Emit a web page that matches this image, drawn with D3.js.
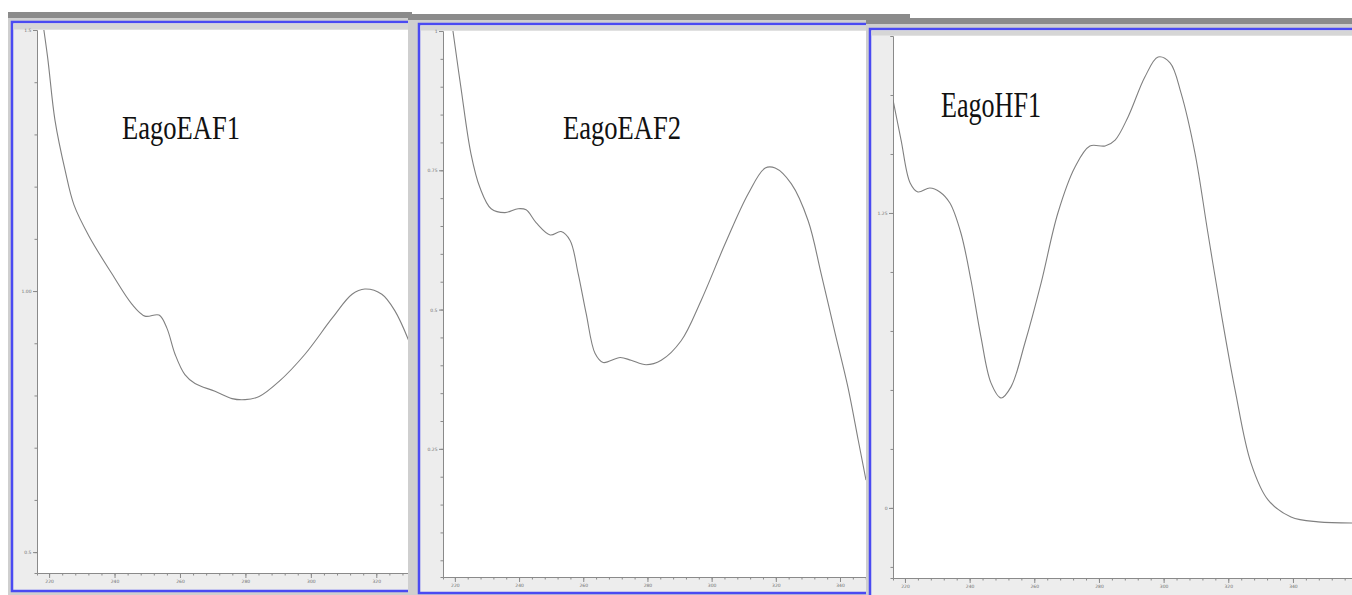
<!DOCTYPE html>
<html>
<head>
<meta charset="utf-8">
<script src="https://cdn.jsdelivr.net/npm/d3@7"></script>
<style>
  body { margin: 0; background: #fff; }
  svg { display: block; }
</style>
</head>
<body>
<div id="chart"></div>
<script>
const width = 1352;
const height = 595;

const sampleNames = ["EagoEAF1", "EagoEAF2", "EagoHF1"];

// wavelength (nm) and absorbance
const nmEAF1 = [217.0, 219.5, 221.8, 224.9, 227.6, 232.2, 239.2, 245.3, 249.3, 253.6, 256.0, 258.5, 261.5, 264.6,
  270.7, 275.9, 279.9, 284.2, 290.3, 298.2, 306.5, 312.6, 316.5, 321.7, 325.7, 330.0];
const absEAF1 = [1.56, 1.45, 1.327, 1.231, 1.165, 1.105, 1.033, 0.975, 0.952, 0.954, 0.929, 0.879, 0.840, 0.823,
  0.808, 0.794, 0.792, 0.798, 0.827, 0.879, 0.948, 0.994, 1.004, 0.994, 0.962, 0.904];

const nmEAF2 = [218.5, 219.4, 221.9, 225.0, 227.8, 231.3, 235.6, 239.7, 242.2, 245.3, 249.7, 253.1, 255.9, 258.4,
  260.9, 263.7, 266.2, 271.5, 274.9, 279.6, 284.3, 290.5, 296.7, 304.2, 311.4, 316.7, 319.8, 324.8, 330.1,
  334.1, 338.5, 342.5, 345.7, 348.1];
const absEAF2 = [1.04, 1.0, 0.898, 0.780, 0.719, 0.681, 0.674, 0.681, 0.679, 0.656, 0.634, 0.640, 0.624, 0.565,
  0.493, 0.421, 0.405, 0.414, 0.409, 0.401, 0.409, 0.444, 0.516, 0.618, 0.708, 0.754, 0.754, 0.726, 0.659,
  0.565, 0.457, 0.360, 0.265, 0.194];

const nmHF1 = [216.3, 218.8, 221.6, 224.0, 227.7, 230.8, 233.9, 237.3, 240.4, 243.5, 246.6, 249.7, 252.8, 257.1,
  262.1, 267.3, 272.6, 277.2, 281.9, 285.0, 289.0, 294.2, 298.3, 302.0, 305.4, 309.7, 313.7, 317.8, 322.1,
  327.0, 332.3, 339.4, 347.8, 358.3];
const absHF1 = [1.729, 1.559, 1.377, 1.339, 1.356, 1.339, 1.292, 1.165, 0.966, 0.725, 0.530, 0.466, 0.513, 0.699,
  0.953, 1.250, 1.445, 1.534, 1.534, 1.559, 1.657, 1.826, 1.911, 1.886, 1.758, 1.504, 1.165, 0.826, 0.500,
  0.191, 0.034, -0.038, -0.059, -0.064];

const xMajor = [220, 240, 260, 280, 300, 320, 340, 360];
const xMajorLabels = ["220", "240", "260", "280", "300", "320", "340", "360"];

const yMajorEAF1 = [0.5, 1.0, 1.5];
const yLabelsEAF1 = ["0.5", "1.00", "1.5"];
const yMajorEAF2 = [0.25, 0.5, 0.75, 1.0];
const yLabelsEAF2 = ["0.25", "0.5", "0.75", "1"];
const yMajorHF1 = [0, 1.25];
const yLabelsHF1 = ["0", "1.25"];

// screen layout of the three pasted windows
const panels = [
  {
    nm: nmEAF1, abs: absEAF1, name: sampleNames[0],
    yMajor: yMajorEAF1, yLabels: yLabelsEAF1, yStep: 0.1,
    win: { x: 8, y: 12, x2: 412, bar: 6 },
    frame: { x: 12, y: 22, x2: 410, y2: 591 },
    plot: { x0: 37, x1: 409, y0: 30, y1: 573 },
    xDomain: [216.3, 330], yDomain: [0.46, 1.5],
    label: { x: 122, y: 139, len: 118, size: 34 }
  },
  {
    nm: nmEAF2, abs: absEAF2, name: sampleNames[1],
    yMajor: yMajorEAF2, yLabels: yLabelsEAF2, yStep: 0.05,
    win: { x: 408, y: 14, x2: 910, bar: 6 },
    frame: { x: 419, y: 24, x2: 868, y2: 593 },
    plot: { x0: 443, x1: 866, y0: 31, y1: 577 },
    xDomain: [216.3, 348.1], yDomain: [0.02, 1.0],
    label: { x: 563, y: 139, len: 118, size: 34 }
  },
  {
    nm: nmHF1, abs: absHF1, name: sampleNames[2],
    yMajor: yMajorHF1, yLabels: yLabelsHF1, yStep: 0.25,
    win: { x: 866, y: 18, x2: 1360, bar: 6 },
    frame: { x: 870, y: 29, x2: 1362, y2: 605 },
    plot: { x0: 893, x1: 1357.6, y0: 36, y1: 578 },
    xDomain: [216.3, 360], yDomain: [-0.297, 2.0],
    label: { x: 941, y: 117, len: 100, size: 36 }
  }
];

const svg = d3.select("#chart")
  .append("svg")
  .attr("width", width)
  .attr("height", height);

panels.forEach((p, i) => {
  const g = svg.append("g");

  const x = d3.scaleLinear().domain(p.xDomain).range([p.plot.x0, p.plot.x1]);
  const y = d3.scaleLinear().domain(p.yDomain).range([p.plot.y1, p.plot.y0]);

  // window chrome
  g.append("rect")
    .attr("x", p.win.x).attr("y", p.win.y)
    .attr("width", p.win.x2 - p.win.x).attr("height", height - p.win.y + 20)
    .attr("fill", "#cfcfcf");
  g.append("rect")
    .attr("x", p.win.x).attr("y", p.win.y)
    .attr("width", p.win.x2 - p.win.x).attr("height", p.win.bar)
    .attr("fill", "#8b8b8b");

  g.append("rect")
    .attr("x", p.frame.x).attr("y", p.frame.y)
    .attr("width", p.frame.x2 - p.frame.x).attr("height", p.frame.y2 - p.frame.y)
    .attr("fill", "#ededed")
    .attr("stroke", "#4a4af2")
    .attr("stroke-width", 2.5);

  g.append("rect")
    .attr("x", p.frame.x + 1.5).attr("y", p.frame.y + 1.5)
    .attr("width", p.frame.x2 - p.frame.x - 3).attr("height", p.plot.y0 - p.frame.y - 2)
    .attr("fill", "#d6d6d6");

  g.append("rect")
    .attr("x", p.plot.x0).attr("y", p.plot.y0)
    .attr("width", Math.min(p.plot.x1, p.frame.x2 - 2) - p.plot.x0)
    .attr("height", p.plot.y1 - p.plot.y0)
    .attr("fill", "#fff");

  // axes
  const xMinor = d3.range(xMajor[0], xMajor[xMajor.length - 1] + 1, 4)
    .filter(v => v >= p.xDomain[0] && v <= p.xDomain[1]);
  const xMaj = xMajor.filter(v => v >= p.xDomain[0] && v <= p.xDomain[1] && x(v) < width - 10);

  const yMinor = d3.range(Math.ceil(p.yDomain[0] / p.yStep), Math.floor(p.yDomain[1] / p.yStep + 1e-6) + 1)
    .map(k => +(k * p.yStep).toFixed(3));

  const axisStyle = sel => {
    sel.select(".domain").attr("stroke", "#8a8a8a");
    sel.selectAll(".tick line").attr("stroke", "#8a8a8a");
    sel.selectAll(".tick text")
      .attr("fill", "#707070")
      .style("font-family", "DejaVu Sans")
      .style("font-size", "4.5px");
  };

  g.append("g")
    .attr("transform", `translate(0,${p.plot.y1})`)
    .call(d3.axisBottom(x).tickValues(xMinor).tickSize(2.5).tickFormat(""))
    .call(axisStyle);
  g.append("g")
    .attr("transform", `translate(0,${p.plot.y1})`)
    .call(d3.axisBottom(x).tickValues(xMaj).tickSize(5).tickPadding(2)
      .tickFormat(v => xMajorLabels[xMajor.indexOf(v)]))
    .call(axisStyle)
    .select(".domain").remove();

  g.append("g")
    .attr("transform", `translate(${p.plot.x0},0)`)
    .call(d3.axisLeft(y).tickValues(yMinor).tickSize(2.5).tickFormat(""))
    .call(axisStyle);
  g.append("g")
    .attr("transform", `translate(${p.plot.x0},0)`)
    .call(d3.axisLeft(y).tickValues(p.yMajor).tickSize(4).tickPadding(1.5)
      .tickFormat(v => p.yLabels[p.yMajor.indexOf(v)]))
    .call(axisStyle)
    .select(".domain").remove();

  // spectrum
  const clipId = "clip" + i;
  g.append("clipPath").attr("id", clipId)
    .append("rect")
    .attr("x", p.plot.x0).attr("y", p.plot.y0)
    .attr("width", Math.min(p.plot.x1, p.frame.x2 - 1) - p.plot.x0)
    .attr("height", p.plot.y1 - p.plot.y0);

  const line = d3.line()
    .x(d => x(d[0]))
    .y(d => y(d[1]))
    .curve(d3.curveCatmullRom.alpha(0.5));

  g.append("path")
    .datum(p.nm.map((w, k) => [w, p.abs[k]]))
    .attr("clip-path", `url(#${clipId})`)
    .attr("d", line)
    .attr("fill", "none")
    .attr("stroke", "#808080")
    .attr("stroke-width", 1.1);

  g.append("text")
    .attr("x", p.label.x)
    .attr("y", p.label.y)
    .attr("textLength", p.label.len)
    .attr("lengthAdjust", "spacingAndGlyphs")
    .style("font-family", "Liberation Serif")
    .style("font-size", p.label.size + "px")
    .attr("fill", "#111")
    .text(p.name);
});
</script>
</body>
</html>
